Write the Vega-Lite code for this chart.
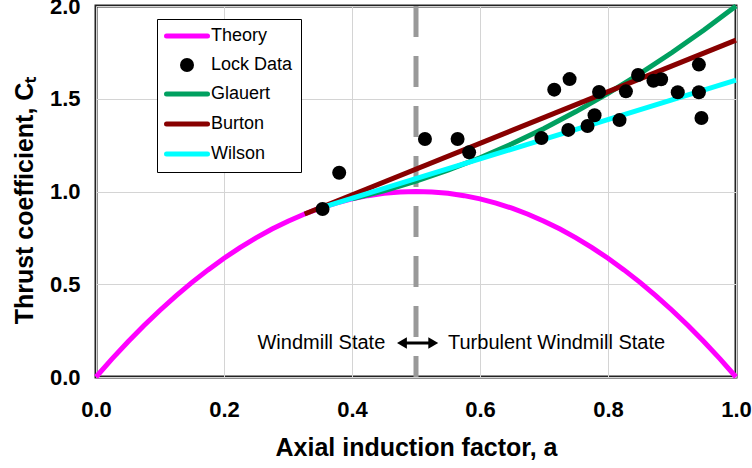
{
  "$schema": "https://vega.github.io/schema/vega-lite/v6.json",
  "width": 640,
  "height": 371,
  "autosize": {"type": "none"},
  "padding": {"left": 96, "top": 6, "right": 16, "bottom": 91},
  "background": "white",
  "config": {
    "font": "Liberation Sans",
    "view": {"stroke": "#222222", "strokeWidth": 3}
  },
  "datasets": {
    "rows": [
      {"series": "Theory", "a": 0.0, "ct": 0.0},
      {"series": "Theory", "a": 0.025, "ct": 0.0975},
      {"series": "Theory", "a": 0.05, "ct": 0.19},
      {"series": "Theory", "a": 0.075, "ct": 0.2775},
      {"series": "Theory", "a": 0.1, "ct": 0.36},
      {"series": "Theory", "a": 0.125, "ct": 0.4375},
      {"series": "Theory", "a": 0.15, "ct": 0.51},
      {"series": "Theory", "a": 0.175, "ct": 0.5775},
      {"series": "Theory", "a": 0.2, "ct": 0.64},
      {"series": "Theory", "a": 0.225, "ct": 0.6975},
      {"series": "Theory", "a": 0.25, "ct": 0.75},
      {"series": "Theory", "a": 0.275, "ct": 0.7975},
      {"series": "Theory", "a": 0.3, "ct": 0.84},
      {"series": "Theory", "a": 0.325, "ct": 0.8775},
      {"series": "Theory", "a": 0.35, "ct": 0.91},
      {"series": "Theory", "a": 0.375, "ct": 0.9375},
      {"series": "Theory", "a": 0.4, "ct": 0.96},
      {"series": "Theory", "a": 0.425, "ct": 0.9775},
      {"series": "Theory", "a": 0.45, "ct": 0.99},
      {"series": "Theory", "a": 0.475, "ct": 0.9975},
      {"series": "Theory", "a": 0.5, "ct": 1.0},
      {"series": "Theory", "a": 0.525, "ct": 0.9975},
      {"series": "Theory", "a": 0.55, "ct": 0.99},
      {"series": "Theory", "a": 0.575, "ct": 0.9775},
      {"series": "Theory", "a": 0.6, "ct": 0.96},
      {"series": "Theory", "a": 0.625, "ct": 0.9375},
      {"series": "Theory", "a": 0.65, "ct": 0.91},
      {"series": "Theory", "a": 0.675, "ct": 0.8775},
      {"series": "Theory", "a": 0.7, "ct": 0.84},
      {"series": "Theory", "a": 0.725, "ct": 0.7975},
      {"series": "Theory", "a": 0.75, "ct": 0.75},
      {"series": "Theory", "a": 0.775, "ct": 0.6975},
      {"series": "Theory", "a": 0.8, "ct": 0.64},
      {"series": "Theory", "a": 0.825, "ct": 0.5775},
      {"series": "Theory", "a": 0.85, "ct": 0.51},
      {"series": "Theory", "a": 0.875, "ct": 0.4375},
      {"series": "Theory", "a": 0.9, "ct": 0.36},
      {"series": "Theory", "a": 0.925, "ct": 0.2775},
      {"series": "Theory", "a": 0.95, "ct": 0.19},
      {"series": "Theory", "a": 0.975, "ct": 0.0975},
      {"series": "Theory", "a": 1.0, "ct": 0.0},
      {"series": "Glauert", "a": 0.4, "ct": 0.960},
      {"series": "Glauert", "a": 0.45, "ct": 1.004},
      {"series": "Glauert", "a": 0.5, "ct": 1.056},
      {"series": "Glauert", "a": 0.55, "ct": 1.115},
      {"series": "Glauert", "a": 0.6, "ct": 1.182},
      {"series": "Glauert", "a": 0.65, "ct": 1.257},
      {"series": "Glauert", "a": 0.7, "ct": 1.340},
      {"series": "Glauert", "a": 0.75, "ct": 1.431},
      {"series": "Glauert", "a": 0.8, "ct": 1.529},
      {"series": "Glauert", "a": 0.85, "ct": 1.635},
      {"series": "Glauert", "a": 0.9, "ct": 1.749},
      {"series": "Glauert", "a": 0.95, "ct": 1.871},
      {"series": "Glauert", "a": 1.0, "ct": 2.0},
      {"series": "Burton", "a": 0.326, "ct": 0.879},
      {"series": "Burton", "a": 1.0, "ct": 1.816},
      {"series": "Wilson", "a": 0.355, "ct": 0.916},
      {"series": "Wilson", "a": 1.0, "ct": 1.6},
      {"series": "Lock Data", "a": 0.380, "ct": 1.101},
      {"series": "Lock Data", "a": 0.354, "ct": 0.906},
      {"series": "Lock Data", "a": 0.514, "ct": 1.283},
      {"series": "Lock Data", "a": 0.565, "ct": 1.283},
      {"series": "Lock Data", "a": 0.583, "ct": 1.211},
      {"series": "Lock Data", "a": 0.696, "ct": 1.288},
      {"series": "Lock Data", "a": 0.716, "ct": 1.549},
      {"series": "Lock Data", "a": 0.740, "ct": 1.606},
      {"series": "Lock Data", "a": 0.738, "ct": 1.332},
      {"series": "Lock Data", "a": 0.768, "ct": 1.353},
      {"series": "Lock Data", "a": 0.779, "ct": 1.411},
      {"series": "Lock Data", "a": 0.786, "ct": 1.536},
      {"series": "Lock Data", "a": 0.818, "ct": 1.385},
      {"series": "Lock Data", "a": 0.828, "ct": 1.540},
      {"series": "Lock Data", "a": 0.847, "ct": 1.628},
      {"series": "Lock Data", "a": 0.871, "ct": 1.597},
      {"series": "Lock Data", "a": 0.883, "ct": 1.605},
      {"series": "Lock Data", "a": 0.909, "ct": 1.535},
      {"series": "Lock Data", "a": 0.942, "ct": 1.684},
      {"series": "Lock Data", "a": 0.942, "ct": 1.535},
      {"series": "Lock Data", "a": 0.946, "ct": 1.396}
    ],
    "divider": [{"a": 0.5, "ct": 2.0, "ct0": 0.0}],
    "arrow": [{"a": 0.478, "a2": 0.527, "ct": 0.183}],
    "heads": [
      {"a": 0.478, "ct": 0.183, "head": "left"},
      {"a": 0.527, "ct": 0.183, "head": "right"}
    ],
    "notes": [
      {"a": 0.452, "ct": 0.183, "label": "Windmill State", "side": "left"},
      {"a": 0.550, "ct": 0.183, "label": "Turbulent Windmill State", "side": "right"}
    ]
  },
  "encoding": {
    "x": {
      "field": "a",
      "type": "quantitative",
      "scale": {"domain": [0, 1], "nice": false, "zero": false},
      "axis": {
        "values": [0, 0.2, 0.4, 0.6, 0.8, 1.0],
        "format": ".1f",
        "title": "Axial induction factor, a",
        "domain": false,
        "ticks": false,
        "grid": true,
        "gridColor": "#d4d4d4",
        "gridWidth": 1,
        "labelFont": "Liberation Sans",
        "labelFontSize": 22,
        "labelFontWeight": "bold",
        "labelColor": "#000000",
        "labelPadding": 22,
        "labelFlush": false,
        "titleFont": "Liberation Sans",
        "titleFontSize": 25,
        "titleFontWeight": "bold",
        "titleColor": "#000000",
        "titlePadding": 15
      }
    },
    "y": {
      "field": "ct",
      "type": "quantitative",
      "scale": {"domain": [0, 2], "nice": false},
      "axis": {
        "values": [0, 0.5, 1.0, 1.5, 2.0],
        "format": ".1f",
        "title": "Thrust coefficient, Cₜ",
        "domain": false,
        "ticks": false,
        "grid": true,
        "gridColor": "#d4d4d4",
        "gridWidth": 1,
        "labelFont": "Liberation Sans",
        "labelFontSize": 22,
        "labelFontWeight": "bold",
        "labelColor": "#000000",
        "labelPadding": 16,
        "labelFlush": false,
        "titleFont": "Liberation Sans",
        "titleFontSize": 25,
        "titleFontWeight": "bold",
        "titleColor": "#000000",
        "titlePadding": 12,
        "titleY": 194
      }
    }
  },
  "layer": [
    {
      "data": {"name": "divider"},
      "mark": {"type": "rule", "color": "#999999", "strokeWidth": 5, "strokeDash": [31, 19]},
      "encoding": {"y2": {"field": "ct0"}}
    },
    {
      "data": {"name": "rows"},
      "transform": [{"filter": "datum.series !== 'Lock Data'"}],
      "mark": {"type": "line", "strokeWidth": 5, "strokeCap": "butt"},
      "encoding": {
        "color": {
          "field": "series",
          "type": "nominal",
          "scale": {
            "domain": ["Theory", "Lock Data", "Glauert", "Burton", "Wilson"],
            "range": ["#ff00ff", "#000000", "#00a060", "#880000", "#00ffff"]
          },
          "legend": {
            "orient": "none",
            "legendX": 61,
            "legendY": 13,
            "title": null,
            "symbolType": "stroke",
            "symbolSize": 196,
            "symbolStrokeWidth": 5,
            "symbolOffset": 13,
            "labelOffset": 15,
            "labelFont": "Liberation Sans",
            "labelFontSize": 18,
            "labelColor": "#000000",
            "rowPadding": 10,
            "padding": 8,
            "strokeColor": "#000000",
            "fillColor": "#ffffff",
            "encode": {
              "symbols": {
                "update": {
                  "shape": {"signal": "datum.value === 'Lock Data' ? 'circle' : 'stroke'"},
                  "size": {"signal": "datum.value === 'Lock Data' ? 196 : 1681"},
                  "fill": {"signal": "datum.value === 'Lock Data' ? '#000000' : 'transparent'"},
                  "stroke": {"signal": "scale('color', datum.value)"},
                  "strokeWidth": {"signal": "datum.value === 'Lock Data' ? 0 : 5"},
                  "strokeCap": {"value": "round"},
                  "opacity": {"value": 1}
                }
              }
            }
          }
        }
      }
    },
    {
      "data": {"name": "rows"},
      "transform": [{"filter": "datum.series === 'Lock Data'"}],
      "mark": {"type": "point", "filled": true, "size": 196, "opacity": 1},
      "encoding": {"color": {"field": "series", "type": "nominal"}}
    },
    {
      "data": {"name": "arrow"},
      "mark": {"type": "rule", "color": "#000000", "strokeWidth": 3},
      "encoding": {"x2": {"field": "a2"}}
    },
    {
      "data": {"name": "heads"},
      "mark": {"type": "point", "filled": true, "color": "#000000", "size": 130, "opacity": 1},
      "encoding": {
        "shape": {
          "field": "head",
          "type": "nominal",
          "scale": {"domain": ["left", "right"], "range": ["triangle-left", "triangle-right"]},
          "legend": null
        }
      }
    },
    {
      "data": {"name": "notes"},
      "transform": [{"filter": "datum.side === 'left'"}],
      "mark": {"type": "text", "align": "right", "baseline": "middle", "font": "Liberation Sans", "fontSize": 20, "color": "#000000"},
      "encoding": {"text": {"field": "label"}}
    },
    {
      "data": {"name": "notes"},
      "transform": [{"filter": "datum.side === 'right'"}],
      "mark": {"type": "text", "align": "left", "baseline": "middle", "font": "Liberation Sans", "fontSize": 20, "color": "#000000"},
      "encoding": {"text": {"field": "label"}}
    }
  ]
}
